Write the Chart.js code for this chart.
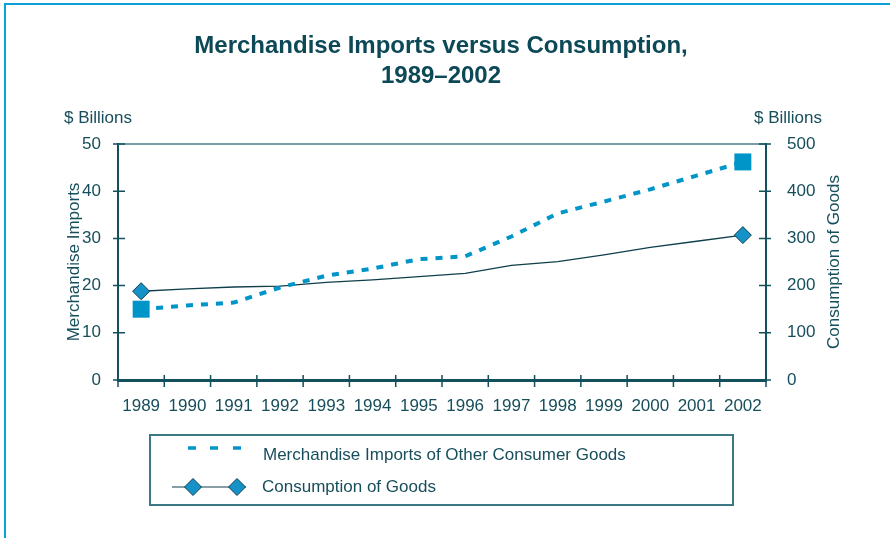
<!DOCTYPE html>
<html>
<head>
<meta charset="utf-8">
<script src="https://cdn.jsdelivr.net/npm/chart.js@4/dist/chart.umd.min.js"></script>
<style>
  html, body { margin: 0; padding: 0; background: #fff; }
  #wrap { width: 890px; height: 538px; position: relative; }
</style>
</head>
<body>
<div id="wrap"><canvas id="importsChart"></canvas></div>
<script>
const years = ['1989', '1990', '1991', '1992', '1993', '1994', '1995', '1996', '1997', '1998', '1999', '2000', '2001', '2002'];
// $ billions, left axis
const merchandiseImports = [15.0, 15.8, 16.4, 19.6, 22.1, 23.6, 25.6, 26.2, 30.4, 35.3, 37.8, 40.4, 43.3, 46.2];
// $ billions, right axis
const consumptionGoods = [188, 193, 197, 199, 207, 212, 219, 226, 243, 251, 265, 281, 294, 307];
const leftTicks = [0, 10, 20, 30, 40, 50];
const rightTicks = [0, 100, 200, 300, 400, 500];

const titleLines = ['Merchandise Imports versus Consumption,', '1989\u20132002'];
const legendLabels = ['Merchandise Imports of Other Consumer Goods', 'Consumption of Goods'];

const TEXT = '#174e5b';
const AXIS = '#13505d';
const BLUE = '#0095c9';
const DARK = '#0f3f4b';
const FONT = '"Liberation Sans", Arial, sans-serif';
const FS = 17;

const lastIdx = years.length - 1;
const endsOnly = (r) => (c) => (c.dataIndex === 0 || c.dataIndex === lastIdx) ? r : 0;

function diamond(ctx, x, y, r) {
    ctx.beginPath();
    ctx.moveTo(x, y - r);
    ctx.lineTo(x + r, y);
    ctx.lineTo(x, y + r);
    ctx.lineTo(x - r, y);
    ctx.closePath();
    ctx.fillStyle = '#1593c8';
    ctx.fill();
    ctx.strokeStyle = DARK;
    ctx.lineWidth = 1;
    ctx.stroke();
}

const decorations = {
    id: 'decorations',
    beforeDraw(chart) {
        const ctx = chart.ctx;
        ctx.save();
        // frame
        ctx.strokeStyle = '#0aa0d8';
        ctx.lineWidth = 2;
        ctx.beginPath();
        ctx.moveTo(5, 538);
        ctx.lineTo(5, 4);
        ctx.lineTo(890, 4);
        ctx.stroke();
        ctx.restore();
    },
    afterDraw(chart) {
        const ctx = chart.ctx;
        const area = chart.chartArea;
        const xs = chart.scales.x, yl = chart.scales.y, yr = chart.scales.y1;
        ctx.save();

        // title
        ctx.fillStyle = '#0c4856';
        ctx.font = 'bold 24px ' + FONT;
        ctx.textAlign = 'center';
        ctx.textBaseline = 'middle';
        ctx.fillText(titleLines[0], 441, 46);
        ctx.fillText(titleLines[1], 441, 76);

        // unit labels
        ctx.fillStyle = TEXT;
        ctx.font = FS + 'px ' + FONT;
        ctx.textAlign = 'left';
        ctx.fillText('$ Billions', 64, 118);
        ctx.fillText('$ Billions', 754, 118);

        // right axis title, reading bottom to top
        ctx.save();
        ctx.translate(834, (area.top + area.bottom) / 2);
        ctx.rotate(-Math.PI / 2);
        ctx.textAlign = 'center';
        ctx.fillText('Consumption of Goods', 0, 0);
        ctx.restore();

        // top border of plot
        ctx.strokeStyle = '#4a7e89';
        ctx.lineWidth = 1.5;
        ctx.beginPath();
        ctx.moveTo(area.left, area.top);
        ctx.lineTo(area.right, area.top);
        ctx.stroke();

        // tick marks crossing the axes
        ctx.strokeStyle = AXIS;
        ctx.lineWidth = 1.5;
        ctx.beginPath();
        leftTicks.forEach(v => {
            const y = yl.getPixelForValue(v);
            ctx.moveTo(area.left - 5, y);
            ctx.lineTo(area.left + 7, y);
        });
        rightTicks.forEach(v => {
            const y = yr.getPixelForValue(v);
            ctx.moveTo(area.right - 7, y);
            ctx.lineTo(area.right + 5, y);
        });
        const half = (xs.getPixelForValue(1) - xs.getPixelForValue(0)) / 2;
        for (let i = 0; i <= years.length; i++) {
            const x = i < years.length ? xs.getPixelForValue(i) - half : xs.getPixelForValue(lastIdx) + half;
            ctx.moveTo(x, area.bottom - 5);
            ctx.lineTo(x, area.bottom + 7);
        }
        ctx.stroke();

        // diamonds on consumption line ends
        [0, lastIdx].forEach(i => {
            diamond(ctx, xs.getPixelForValue(i), yr.getPixelForValue(consumptionGoods[i]), 8.5);
        });

        // legend
        ctx.strokeStyle = '#3d7985';
        ctx.lineWidth = 2;
        ctx.strokeRect(150, 435, 583, 70);

        ctx.strokeStyle = BLUE;
        ctx.lineWidth = 3.5;
        ctx.beginPath();
        [[188, 196], [210, 218], [233, 241]].forEach(([a, b]) => {
            ctx.moveTo(a, 448);
            ctx.lineTo(b, 448);
        });
        ctx.stroke();

        ctx.strokeStyle = DARK;
        ctx.lineWidth = 1.2;
        ctx.beginPath();
        ctx.moveTo(172, 487);
        ctx.lineTo(246, 487);
        ctx.stroke();
        diamond(ctx, 193, 487, 8.5);
        diamond(ctx, 237, 487, 8.5);

        ctx.fillStyle = TEXT;
        ctx.font = FS + 'px ' + FONT;
        ctx.textAlign = 'left';
        ctx.textBaseline = 'middle';
        ctx.fillText(legendLabels[0], 263, 455);
        ctx.fillText(legendLabels[1], 262, 487);

        ctx.restore();
    }
};

new Chart(document.getElementById('importsChart').getContext('2d'), {
    type: 'line',
    data: {
        labels: years,
        datasets: [{
            label: legendLabels[0],
            data: merchandiseImports,
            yAxisID: 'y',
            borderColor: BLUE,
            borderWidth: 4,
            borderDash: [7, 8],
            tension: 0,
            pointStyle: 'rect',
            pointRadius: endsOnly(12),
            pointHoverRadius: endsOnly(12),
            pointBackgroundColor: BLUE,
            pointBorderWidth: 0
        }, {
            label: legendLabels[1],
            data: consumptionGoods,
            yAxisID: 'y1',
            borderColor: DARK,
            borderWidth: 1.3,
            tension: 0,
            pointRadius: 0
        }]
    },
    options: {
        responsive: true,
        maintainAspectRatio: false,
        animation: false,
        layout: { padding: { top: 144, left: 0, right: 0, bottom: 0 } },
        plugins: { legend: { display: false }, title: { display: false }, tooltip: { enabled: false } },
        scales: {
            x: {
                type: 'category',
                offset: true,
                grid: { display: false },
                border: { display: true, color: AXIS, width: 3 },
                ticks: { color: TEXT, font: { family: FONT, size: FS }, padding: 8, maxRotation: 0, autoSkip: false },
                afterFit: (s) => { s.height = 158; }
            },
            y: {
                position: 'left',
                min: 0, max: 50,
                grid: { display: false },
                border: { display: true, color: AXIS, width: 2 },
                ticks: { stepSize: 10, color: TEXT, font: { family: FONT, size: FS }, padding: 9 },
                title: { display: true, text: 'Merchandise Imports', color: TEXT, font: { family: FONT, size: FS }, padding: { top: 64, bottom: 0 } },
                afterFit: (s) => { s.width = 118; }
            },
            y1: {
                position: 'right',
                min: 0, max: 500,
                grid: { display: false },
                border: { display: true, color: AXIS, width: 2 },
                ticks: { stepSize: 100, color: TEXT, font: { family: FONT, size: FS }, padding: 13 },
                afterFit: (s) => { s.width = 124; }
            }
        }
    },
    plugins: [decorations]
});
</script>
</body>
</html>
